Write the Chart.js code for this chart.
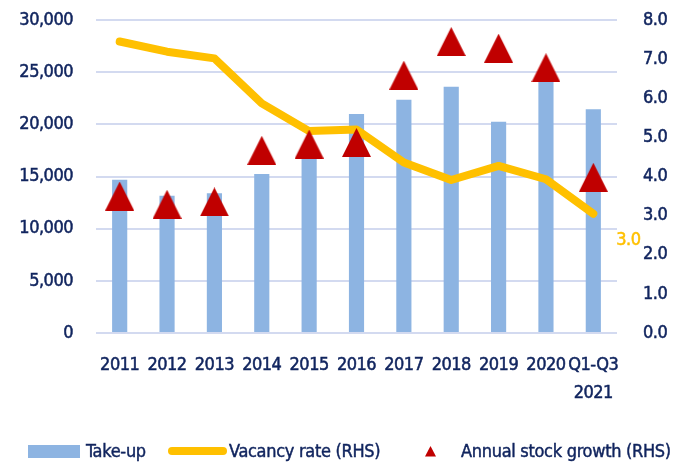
<!DOCTYPE html>
<html>
<head>
<meta charset="utf-8">
<script src="https://cdn.jsdelivr.net/npm/chart.js@4.4.0/dist/chart.umd.min.js"></script>
<style>
  html, body { margin: 0; padding: 0; background: #ffffff; }
  #wrap { position: relative; width: 688px; height: 465px; }
  #legend { position: absolute; left: 0; top: 440px; width: 688px; height: 24px;
    font-family: "DejaVu Sans Condensed", sans-serif; font-size: 18px; color: #10245E;
    letter-spacing: -0.3px; -webkit-text-stroke: 0.45px #10245E; }
  #legend span { position: absolute; white-space: nowrap; line-height: 22px; top: 0; }
  .sw { position: absolute; }
</style>
</head>
<body>
<div id="wrap">
  <canvas id="c" width="688" height="465"></canvas>
  <div id="legend">
    <div class="sw" style="left:28px;top:5px;width:52px;height:13px;background:#8DB4E2"></div>
    <span style="left:86px">Take-up</span>
    <div class="sw" style="left:168px;top:7px;width:59px;height:8px;border-radius:4px;background:#FFC000"></div>
    <span style="left:229px">Vacancy rate (RHS)</span>
    <svg class="sw" style="left:425px;top:6px" width="11" height="11"><polygon points="5.5,0 11,10.5 0,10.5" fill="#C00000"/></svg>
    <span style="left:461px">Annual stock growth (RHS)</span>
  </div>
</div>
<script>
const categories = ["2011","2012","2013","2014","2015","2016","2017","2018","2019","2020",["Q1-Q3","2021"]];
const takeUp = [14700, 13150, 13400, 15250, 17000, 21000, 22350, 23600, 20250, 24400, 21450];
const vacancyRate = [7.45, 7.19, 7.02, 5.87, 5.16, 5.20, 4.36, 3.91, 4.27, 3.93, 3.05];
const stockGrowth = [3.50, 3.29, 3.35, 4.67, 4.83, 4.87, 6.59, 7.45, 7.28, 6.78, 3.98];
const leftTicks = [0, 5000, 10000, 15000, 20000, 25000, 30000];
const rightTicks = [0, 1, 2, 3, 4, 5, 6, 7, 8];
const lastLabel = "3.0";

const FONT = "'DejaVu Sans Condensed', sans-serif";
const NAVY = "#10245E";

// triangle marker image, centred on its bounding box
const tri = document.createElement('canvas');
tri.width = 29; tri.height = 29;
(function(){ const t = tri.getContext('2d'); t.fillStyle = '#C00000'; t.beginPath();
  t.moveTo(14.5, 0); t.lineTo(29, 29); t.lineTo(0, 29); t.closePath(); t.fill(); })();

const spacingPlugin = {
  id: 'spacing',
  beforeDraw(chart) { try { chart.ctx.letterSpacing = '-0.5px'; } catch (e) {} }
};

const lastLabelPlugin = {
  id: 'lastLabel',
  afterDatasetsDraw(chart) {
    const meta = chart.getDatasetMeta(1);
    const pt = meta.data[meta.data.length - 1];
    const ctx = chart.ctx;
    ctx.save();
    ctx.font = "18px " + FONT;
    ctx.fillStyle = "#FFC000";
    ctx.strokeStyle = "#FFC000";
    ctx.lineWidth = 0.5;
    ctx.textAlign = "left";
    ctx.textBaseline = "middle";
    ctx.strokeText(lastLabel, pt.x + 23, pt.y + 27);
    ctx.fillText(lastLabel, pt.x + 23, pt.y + 27);
    ctx.restore();
  }
};

const tickFont = { family: FONT, size: 18 };

new Chart(document.getElementById('c'), {
  data: {
    labels: categories,
    datasets: [
      { type: 'line', label: 'Annual stock growth (RHS)', data: stockGrowth, yAxisID: 'y1',
        showLine: false, pointStyle: tri, pointRadius: 15, pointHoverRadius: 15, order: 0 },
      { type: 'line', label: 'Vacancy rate (RHS)', data: vacancyRate, yAxisID: 'y1',
        borderColor: '#FFC000', borderWidth: 8, borderCapStyle: 'round', borderJoinStyle: 'round',
        pointRadius: 0, tension: 0, fill: false, order: 1 },
      { type: 'bar', label: 'Take-up', data: takeUp, yAxisID: 'y',
        backgroundColor: '#8DB4E2', barPercentage: 0.32, categoryPercentage: 1.0, order: 2 }
    ]
  },
  options: {
    responsive: false,
    animation: false,
    devicePixelRatio: 1,
    layout: { padding: { top: 20, left: 0, right: 0, bottom: 0 } },
    plugins: { legend: { display: false }, tooltip: { enabled: false } },
    scales: {
      x: {
        grid: { display: false, drawTicks: false },
        border: { display: false },
        ticks: { color: NAVY, font: { family: FONT, size: 18, lineHeight: 1.55 }, padding: 18,
          maxRotation: 0, autoSkip: false, textStrokeColor: NAVY, textStrokeWidth: 0.5 },
        afterFit(s) { s.height = 132; }
      },
      y: {
        position: 'left', min: 0, max: 30000,
        afterBuildTicks(s) { s.ticks = leftTicks.map(v => ({ value: v })); },
        grid: { color: '#D3DAF0', lineWidth: 2, drawTicks: true, tickLength: 20, tickColor: 'rgba(0,0,0,0)' },
        border: { display: false },
        ticks: { color: NAVY, font: tickFont, padding: 3, textStrokeColor: NAVY, textStrokeWidth: 0.5,
          callback: v => v.toLocaleString('en-US') },
        afterFit(s) { s.width = 96; }
      },
      y1: {
        position: 'right', min: 0, max: 8,
        afterBuildTicks(s) { s.ticks = rightTicks.map(v => ({ value: v })); },
        grid: { display: true, drawOnChartArea: false, drawTicks: true, tickLength: 23, tickColor: 'rgba(0,0,0,0)' },
        border: { display: false },
        ticks: { color: NAVY, font: tickFont, padding: 3, textStrokeColor: NAVY, textStrokeWidth: 0.5,
          callback: v => Number(v).toFixed(1) },
        afterFit(s) { s.width = 71; }
      }
    }
  },
  plugins: [spacingPlugin, lastLabelPlugin]
});
</script>
</body>
</html>
